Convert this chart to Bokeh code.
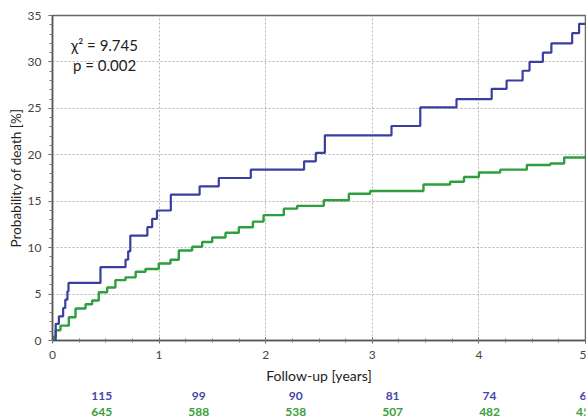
from bokeh.plotting import figure
from bokeh.layouts import column
from bokeh.models import Range1d, FixedTicker
from bokeh.embed import file_html
from bokeh.resources import INLINE
from bokeh.core.properties import value

# ---- data ----
blue_t = [0, 0.03, 0.06, 0.10, 0.12, 0.14, 0.15, 0.45, 0.685, 0.71, 0.73, 0.89, 0.935, 0.98,
          1.11, 1.38, 1.56, 1.86, 2.36, 2.47, 2.555, 3.18, 3.45, 3.79, 4.12, 4.26, 4.41,
          4.475, 4.6, 4.68, 4.875, 4.94, 5.0]
blue_v = [0, 1.8, 2.6, 3.5, 4.4, 5.3, 6.2, 7.9, 8.7, 9.6, 11.3, 12.2, 13.1, 14.0,
          15.7, 16.6, 17.5, 18.4, 19.3, 20.2, 22.1, 23.1, 25.1, 26.0, 27.1, 28.0, 29.05,
          30.0, 31.0, 32.0, 33.1, 34.1, 34.1]

green_t = [0, 0.01, 0.03, 0.075, 0.153, 0.216, 0.31, 0.372, 0.434, 0.513, 0.59, 0.685, 0.78,
           0.872, 0.997, 1.107, 1.185, 1.31, 1.404, 1.498, 1.623, 1.748, 1.88, 1.98, 2.17,
           2.295, 2.545, 2.78, 2.98, 3.48, 3.73, 3.86, 4.0, 4.2, 4.45, 4.67, 4.8, 5.0]
green_v = [0, 0.4, 1.1, 1.6, 2.5, 3.45, 3.9, 4.3, 5.2, 5.7, 6.5, 6.8, 7.4,
           7.7, 8.3, 8.7, 9.7, 10.1, 10.6, 11.1, 11.6, 12.2, 12.8, 13.5, 14.2,
           14.5, 15.1, 15.8, 16.1, 16.8, 17.1, 17.6, 18.1, 18.4, 18.9, 19.06, 19.7, 19.9]

risk_years = [0, 1, 2, 3, 4, 5]
risk_blue = ["115", "99", "90", "81", "74", "66"]
risk_green = ["645", "588", "538", "507", "482", "458"]

stat_lines = ["\u03c7\u00b2 = 9.745", "p = 0.002"]

BLUE = "#3a3e9e"
GREEN = "#2e9e3e"
FONT = "Lato"

# plot frame geometry (pixels)
LEFT, RIGHT, TOP, BOTTOM = 52, 1, 15, 49
W, H = 586, 389
FRAME_W = W - LEFT - RIGHT
X0, X1 = 0, 5

p = figure(width=W, height=H, output_backend="svg", toolbar_location=None,
           x_range=Range1d(X0, X1), y_range=Range1d(0, 35),
           min_border_left=LEFT, min_border_right=RIGHT, min_border_top=TOP,
           min_border_bottom=BOTTOM)
p.background_fill_color = "white"
p.border_fill_color = "white"
p.outline_line_color = "#666666"
p.outline_line_width = 1.5

for ax in (p.xaxis[0], p.yaxis[0]):
    ax.axis_line_color = "#555555"
    ax.axis_line_width = 1.5
    ax.major_tick_line_color = "#555555"
    ax.minor_tick_line_color = "#777777"
    ax.major_label_text_font = FONT
    ax.major_label_text_font_size = "12px"
    ax.major_label_text_color = "#444444"
    ax.axis_label_text_font = FONT
    ax.axis_label_text_font_style = "normal"
    ax.axis_label_text_color = "#222222"
p.xaxis.axis_label_text_font_size = "14px"
p.yaxis.axis_label_text_font_size = "13.5px"

p.xaxis.ticker = FixedTicker(ticks=[0, 1, 2, 3, 4, 5],
                             minor_ticks=[i * 0.25 for i in range(21)])
p.yaxis.ticker = FixedTicker(ticks=[0, 5, 10, 15, 20, 25, 30, 35],
                             minor_ticks=list(range(36)))
p.xaxis.major_tick_out = 3
p.xaxis.major_tick_in = 3
p.xaxis.minor_tick_out = 2
p.xaxis.minor_tick_in = 2
p.yaxis.major_tick_out = 4
p.yaxis.major_tick_in = 0
p.yaxis.minor_tick_out = 3
p.yaxis.minor_tick_in = 0
p.xaxis.major_label_standoff = 7
p.yaxis.major_label_standoff = 7
p.xaxis.axis_label = "Follow-up [years]"
p.yaxis.axis_label = "Probability of death [%]"
p.xaxis.axis_label_standoff = 5
p.yaxis.axis_label_standoff = 1

p.xgrid.ticker = FixedTicker(ticks=[1, 2, 3, 4])
p.ygrid.ticker = FixedTicker(ticks=[5, 10, 15, 20, 25, 30])
for g in (p.xgrid[0], p.ygrid[0]):
    g.grid_line_color = "#b5b5b5"
    g.grid_line_dash = "2 2"
    g.grid_line_width = 1

p.step(green_t, green_v, mode="after", line_color=GREEN, line_width=2.4)
p.step(blue_t, blue_v, mode="after", line_color=BLUE, line_width=2.2)

p.text(x=[0.488, 0.488], y=[31.8, 29.7], text=stat_lines,
       text_font=value(FONT), text_font_size="15px", text_color="#222222",
       text_align="center", text_baseline="middle")

# ---- numbers at risk: a full-width strip below with the same x scale ----
px_per_year = FRAME_W / (X1 - X0)
r = figure(width=W, height=30, output_backend="svg", toolbar_location=None,
           x_range=Range1d(X0 - LEFT / px_per_year, X1 + RIGHT / px_per_year),
           y_range=Range1d(0, 1), x_axis_type=None, y_axis_type=None,
           min_border_left=0, min_border_right=0, min_border_top=0, min_border_bottom=0)
r.outline_line_color = None
r.xgrid.visible = False
r.ygrid.visible = False
r.background_fill_color = "white"
r.border_fill_color = "white"

rx = [t + 0.02 for t in risk_years]
r.text(x=rx, y=[0.767] * len(rx), text=risk_blue,
       text_font=value(FONT), text_font_size="12px", text_font_style="bold",
       text_color="#4646aa", text_align="center", text_baseline="middle")
r.text(x=rx, y=[0.243] * len(rx), text=risk_green,
       text_font=value(FONT), text_font_size="12px", text_font_style="bold",
       text_color="#3a9e3a", text_align="center", text_baseline="middle")

layout = column(p, r, spacing=0)
open("out.html", "w").write(file_html(layout, INLINE))
